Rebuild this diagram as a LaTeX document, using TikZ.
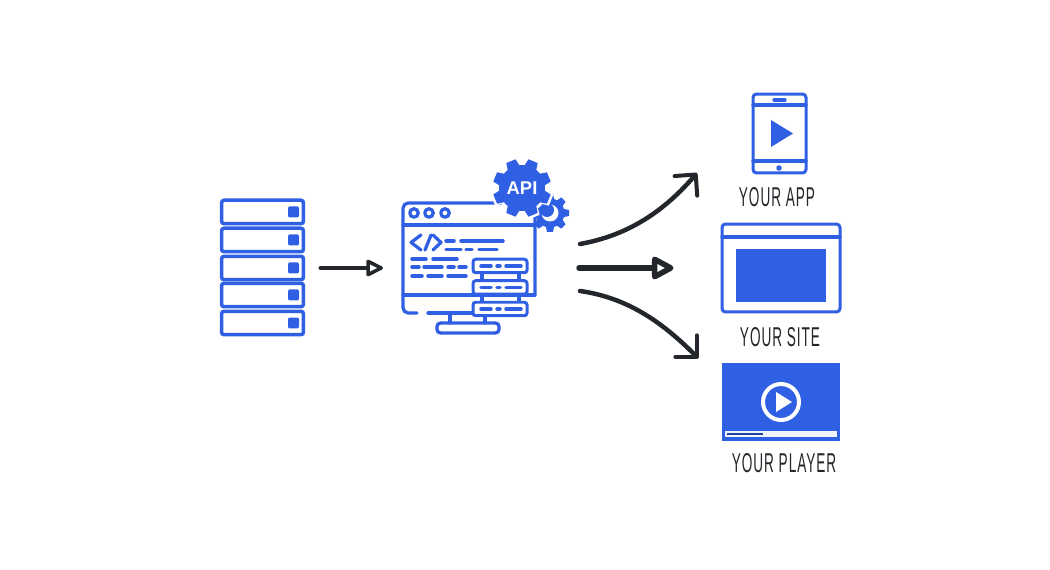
\documentclass[tikz,border=0pt]{standalone}
\usepackage{fontspec}
\setmainfont{Liberation Sans}
\usetikzlibrary{arrows.meta,shapes,positioning,calc}
\definecolor{apiblue}{HTML}{2F5FE3}
\definecolor{inkdark}{HTML}{23272B}
\newcommand{\nameText}[1]{\scalebox{.5}[1]{\fontsize{15.5}{16}\selectfont\addfontfeature{LetterSpace=7}#1}}

\begin{document}
\begin{tikzpicture}
[x=.02cm,y=-.02cm,
line/.style={apiblue,line width=.065cm,line cap=round,line join=round},
thinline/.style={apiblue,line width=.07cm,line cap=round},
rowbox/.style={draw=apiblue,line width=.07cm,rounded corners=1.5pt,minimum width=1.64cm,minimum height=.47cm,inner sep=0pt},
led/.style={fill=apiblue,rounded corners=.8pt,minimum size=.22cm,inner sep=0pt},
disk/.style={draw=apiblue,line width=.06cm,fill=white,rounded corners=1.5pt,minimum width=1.08cm,minimum height=.27cm,inner sep=0pt},
device/.style={draw=apiblue,line width=.06cm,rounded corners=2pt,inner sep=0pt},
tag/.style={inkdark,inner sep=0pt},
wire/.style={inkdark,line cap=round,line join=round}]
%%
\useasboundingbox (0,0) rectangle (1050,570);
%%
%%%%%%%%%%%%%%%%%%
% servers
%%%%%%%%%%%%%%%%%%
\node[rowbox] (row1) at (262.5,212) {};
\node[rowbox] (row2) at (262.5,240) {};
\node[rowbox] (row3) at (262.5,268) {};
\node[rowbox] (row4) at (262.5,295) {};
\node[rowbox] (row5) at (262.5,323) {};
%%
\node[led] (led1) at (293.5,212) {};
\node[led] (led2) at (293.5,240) {};
\node[led] (led3) at (293.5,268) {};
\node[led] (led4) at (293.5,295) {};
\node[led] (led5) at (293.5,323) {};
%%
%%%%%%%%%%%%%%%%%%
% API window
%%%%%%%%%%%%%%%%%%
%% frame
\draw[line,rounded corners=3pt] (417,313) -- (403,313) -- (403,203) -- (535,203) -- (535,295);
\draw[line] (403,225) -- (535,225);
\draw[line] (403,295) -- (535,295);
\draw[line] (428,313) -- (475,313);
%% stand
\draw[line] (450,314) -- (450,323);
\draw[line] (485,314) -- (485,323);
\draw[line,rounded corners=2pt] (437,323) rectangle (499,333);
%% dots
\draw[line] (414,213) circle (.085cm);
\draw[line] (429,213) circle (.085cm);
\draw[line] (445,213) circle (.085cm);
%% code brackets
\draw[line] (421,235) -- (411,242.5) -- (421,250);
\draw[line] (431,235) -- (425,250);
\draw[line] (433,235) -- (441,242.5) -- (433,250);
%% code lines
\draw[thinline] (446,241) -- (454,241);
\draw[thinline] (461,241) -- (503,241);
\draw[thinline] (446,249.5) -- (461,249.5);
\draw[thinline] (466,249.5) -- (472,249.5);
\draw[thinline] (479,249.5) -- (497,249.5);
\draw[thinline] (412,259) -- (426,259);
\draw[thinline] (433,259) -- (457,259);
\draw[thinline] (412,267) -- (419,267);
\draw[thinline] (424,267) -- (442,267);
\draw[thinline] (448,267) -- (454,267);
\draw[thinline] (459,267) -- (466,267);
\draw[thinline] (412,276) -- (422,276);
\draw[thinline] (428,276) -- (442,276);
\draw[thinline] (448,276) -- (466,276);
%%
%% disks
\draw[line] (482,270) -- (482,305);
\draw[line] (519,270) -- (519,305);
\node[disk] (disk1) at (500,266) {};
\node[disk] (disk2) at (500,287.5) {};
\node[disk] (disk3) at (500,309) {};
\draw[thinline] (481,266) -- (491,266);
\draw[thinline] (497,266) -- (500,266);
\draw[thinline] (506,266) -- (521,266);
\draw[thinline] (481,287.5) -- (491,287.5);
\draw[thinline] (497,287.5) -- (500,287.5);
\draw[thinline] (506,287.5) -- (521,287.5);
\draw[thinline] (481,309) -- (491,309);
\draw[thinline] (497,309) -- (500,309);
\draw[thinline] (506,309) -- (521,309);
%%
%% small gear
\begin{scope}[shift={(550,213)}]
\def \n {8}
\fill[apiblue] (0,0) circle (.29cm);
\foreach \i in {1,...,\n}
  \fill[apiblue,rotate=360/\n*\i] (-4.5,-12) -- (-3,-19) -- (3,-19) -- (4.5,-12) -- cycle;
\fill[white] (0,0) circle (.17cm);
\fill[apiblue] (-3,-3) circle (.14cm);
\end{scope}
%% big gear
\begin{scope}[shift={(522,188)}]
\def \n {8}
\foreach \i in {1,...,\n}
  \fill[white,rotate=360/\n*\i+22.5] (-8,-18) -- (-6,-31.5) -- (6,-31.5) -- (8,-18) -- cycle;
\fill[white] (0,0) circle (.52cm);
\fill[apiblue] (0,0) circle (.46cm);
\foreach \i in {1,...,\n}
  \fill[apiblue,rotate=360/\n*\i+22.5] (-7,-18) -- (-5,-29) -- (5,-29) -- (7,-18) -- cycle;
\node[white,inner sep=0pt,font=\fontsize{10.5}{11}\selectfont\bfseries] (api) at (0,0) {API};
\end{scope}
%%
%%%%%%%%%%%%%%%%%%
% outputs
%%%%%%%%%%%%%%%%%%
%% phone
\node[device,minimum width=1.06cm,minimum height=1.58cm] (phone) at (779.5,133.5) {};
\draw[line] (753,105) -- (806,105);
\draw[line] (753,161) -- (806,161);
\draw[line] (774,100) -- (785,100);
\fill[apiblue] (779,168) circle (.055cm);
\fill[apiblue] (771,120) -- (793,133.5) -- (771,147) -- cycle;
\node[tag] (applabel) at (777,197) {\nameText{YOUR APP}};
%%
%% site
\node[device,minimum width=2.36cm,minimum height=1.76cm] (site) at (781,268) {};
\draw[line] (722,237) -- (840,237);
\fill[apiblue] (736,249) rectangle (826,302);
\node[tag] (sitelabel) at (780,337) {\nameText{YOUR SITE}};
%%
%% player
\node[fill=apiblue,minimum width=2.36cm,minimum height=1.56cm,inner sep=0pt] (player) at (781,402) {};
\draw[white,line width=.08cm] (781,402) circle (.36cm);
\fill[white] (776,392) -- (792,402) -- (776,412) -- cycle;
\fill[white!92!apiblue] (725,431) rectangle (837,437);
\draw[apiblue!70!black,line width=.035cm] (727,434) -- (763,434);
\node[tag] (playerlabel) at (784,463) {\nameText{YOUR PLAYER}};
%%
%%%%%%%%%%%%%%%%%%
% arrows
%%%%%%%%%%%%%%%%%%
\coordinate (intip) at (383,268);
\coordinate (upfrom) at (580,244);
\coordinate (uptip) at (697,173);
\coordinate (midfrom) at (579,268);
\coordinate (downfrom) at (580,291);
\coordinate (downtip) at (698,358);
%%
\draw[wire,line width=.07cm,shorten <=.3cm,-{Triangle[open,fill=white,length=.38cm,width=.36cm,line width=.07cm,round]}] (row3.east) -- (intip);
\draw[wire,line width=.11cm,shorten >=.94cm,-{Triangle[open,fill=white,length=.5cm,width=.5cm,line width=.11cm,round]}] (midfrom) -- (site.west);
\draw[wire,line width=.09cm,-{Straight Barb[length=.3cm,width=.6cm,line width=.08cm,round]}] (upfrom) .. controls (630,235) and (665,210) .. (uptip);
\draw[wire,line width=.09cm,-{Straight Barb[length=.3cm,width=.6cm,line width=.08cm,round]}] (downfrom) .. controls (630,298) and (665,325) .. (downtip);
%%
\end{tikzpicture}
\end{document}
